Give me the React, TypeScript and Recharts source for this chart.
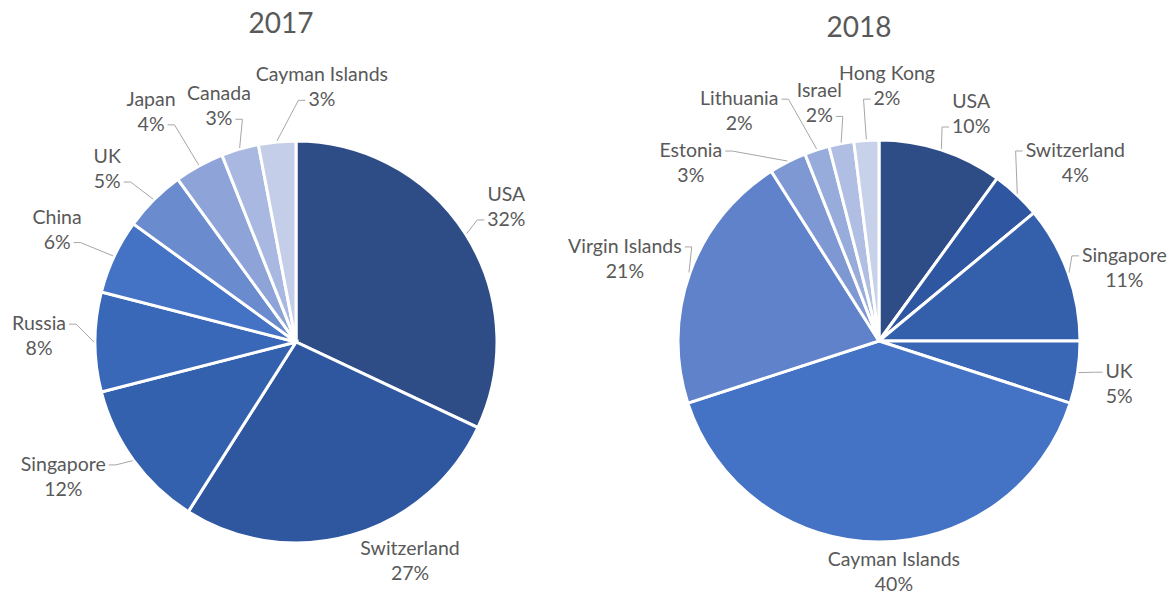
import React from "react";
import { PieChart, Pie, Cell } from "recharts";

// 2017 shares (%)
const countries2017 = ["USA", "Switzerland", "Singapore", "Russia", "China", "UK", "Japan", "Canada", "Cayman Islands"];
const shares2017 = [32, 27, 12, 8, 6, 5, 4, 3, 3];

// 2018 shares (%)
const countries2018 = ["USA", "Switzerland", "Singapore", "UK", "Cayman Islands", "Virgin Islands", "Estonia", "Lithuania", "Israel", "Hong Kong"];
const shares2018 = [10, 4, 11, 5, 40, 21, 3, 2, 2, 2];

const colors2017 = ["#2E4D87", "#2F57A0", "#3461AD", "#3A68B8", "#4472C4", "#6A8CCE", "#8EA4D8", "#A9B8E0", "#C5CEE8"];
const colors2018 = ["#2E4D87", "#2F56A0", "#345FAB", "#3A66B6", "#4472C4", "#5F82CA", "#7E98D3", "#98ACDC", "#AFBEE2", "#C8D1EA"];

// label placement: [angle shift from slice middle (deg), distance from pie centre (px)]
const labelPlace2017 = [[-0.3, 250], [-11.3, 247], [5.9, 269], [1.3, 257], [0, 264], [-2.5, 256], [-3.4, 272], [-1.9, 248], [11.2, 256]];
const labelPlace2018 = [[4.1, 245], [4.6, 265], [3.2, 256], [1.2, 244], [-3.7, 231], [-1.9, 267], [-19.6, 259], [-13.3, 269], [-3.3, 245], [5.4, 255]];

const FONT = "Lato, 'Open Sans', sans-serif";
const FS = 19.5;
const TEXT = "#595959";

const data2017 = countries2017.map((name, i) => ({ name, value: shares2017[i] }));
const data2018 = countries2018.map((name, i) => ({ name, value: shares2018[i] }));

let ctx: CanvasRenderingContext2D | null = null;
function textWidth(s: string) {
  if (!ctx) ctx = document.createElement("canvas").getContext("2d");
  if (!ctx) return s.length * 9;
  ctx.font = `${FS}px Lato`;
  return ctx.measureText(s).width;
}

const clamp = (v: number, a: number, b: number) => Math.max(a, Math.min(b, v));

function makeLabel(place: number[][]) {
  return (props: any) => {
    const { cx, cy, midAngle, outerRadius, index } = props;
    const name = props.name ?? props.payload?.name;
    const value = props.value ?? props.payload?.value;
    const theta = 90 - midAngle;
    const [dA, dist] = place[index];
    const t = ((theta + dA) * Math.PI) / 180;
    const lx = cx + dist * Math.sin(t);
    const ly = cy - dist * Math.cos(t);
    const m = (theta * Math.PI) / 180;
    const ax = cx + (outerRadius + 1) * Math.sin(m);
    const ay = cy - (outerRadius + 1) * Math.cos(m);

    // leader line goes to the nearest of the two text lines
    const lines = [
      { text: name, base: ly - 6 },
      { text: `${value}%`, base: ly + 19 },
    ];
    let best = { d: Infinity, px: 0, py: 0, side: 0 };
    lines.forEach((ln) => {
      const w = textWidth(ln.text);
      const x0 = lx - w / 2 - 3;
      const x1 = lx + w / 2 + 3;
      const y0 = ln.base - 13;
      const y1 = ln.base + 1;
      const px = clamp(ax, x0, x1);
      const py = clamp(ay, y0, y1);
      const d = Math.hypot(px - ax, py - ay);
      const side = px === x0 ? -1 : px === x1 ? 1 : 0;
      if (d < best.d) best = { d, px, py: side ? ln.base - 6 : py, side };
    });

    let leader = null;
    if (best.d > 10) {
      const pts = best.side
        ? `${ax},${ay} ${best.px + best.side * 7},${best.py} ${best.px},${best.py}`
        : `${ax},${ay} ${best.px},${best.py}`;
      leader = <polyline points={pts} fill="none" stroke="#A6A6A6" strokeWidth={1} />;
    }

    return (
      <g>
        {leader}
        <text x={lx} textAnchor="middle" fill={TEXT} fontSize={FS} fontFamily={FONT}>
          <tspan x={lx} y={ly - 6}>{name}</tspan>
          <tspan x={lx} y={ly + 19}>{`${value}%`}</tspan>
        </text>
      </g>
    );
  };
}

export default function App() {
  return (
    <div style={{ position: "absolute", left: 0, top: 0, width: 1176, height: 596, background: "#fff" }}>
      <PieChart width={1176} height={596} margin={{ top: 0, right: 0, bottom: 0, left: 0 }}>
        <Pie
          data={data2017}
          dataKey="value"
          nameKey="name"
          cx={296}
          cy={342}
          outerRadius={201}
          startAngle={90}
          endAngle={-270}
          stroke="#fff"
          strokeWidth={3}
          labelLine={false}
          label={makeLabel(labelPlace2017)}
          isAnimationActive={false}
        >
          {data2017.map((d, i) => (
            <Cell key={d.name} fill={colors2017[i]} />
          ))}
        </Pie>
        <Pie
          data={data2018}
          dataKey="value"
          nameKey="name"
          cx={879}
          cy={341}
          outerRadius={201}
          startAngle={90}
          endAngle={-270}
          stroke="#fff"
          strokeWidth={3}
          labelLine={false}
          label={makeLabel(labelPlace2018)}
          isAnimationActive={false}
        >
          {data2018.map((d, i) => (
            <Cell key={d.name} fill={colors2018[i]} />
          ))}
        </Pie>
      </PieChart>
      <svg width={1176} height={60} style={{ position: "absolute", left: 0, top: 0, pointerEvents: "none" }}>
        <text x={281} y={33} textAnchor="middle" fill={TEXT} fontSize={28} fontFamily={FONT}>2017</text>
        <text x={859} y={37} textAnchor="middle" fill={TEXT} fontSize={28} fontFamily={FONT}>2018</text>
      </svg>
    </div>
  );
}
